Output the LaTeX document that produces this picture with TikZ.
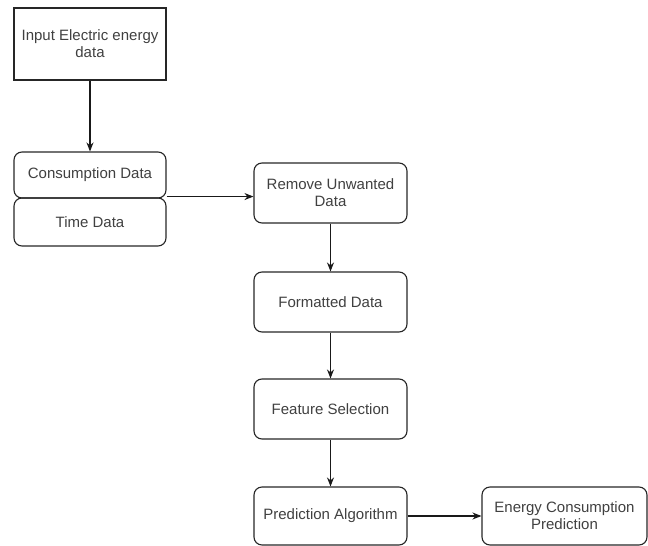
\documentclass[tikz,border=0pt]{standalone}
\usepackage{fontspec}
\setmainfont{Liberation Sans}
\usetikzlibrary{arrows.meta}
\begin{document}
\begin{tikzpicture}[x=1pt,y=-1pt,
  box/.style={draw=black!85, line width=1.1pt, rounded corners=8pt, align=center, text=black!75, font=\fontsize{15}{17}\selectfont, inner sep=0pt},
  sqbox/.style={box, rounded corners=0pt},
  arr/.style={draw=black!90, line width=1.1pt, -{Stealth[length=9pt,width=7pt]}}]
\useasboundingbox (0,0) rectangle (648,546);
\node[sqbox, minimum width=152pt, minimum height=72pt] (inp) at (90,44) {Input Electric energy\\data};
\node[box, minimum width=152pt, minimum height=46pt] (cons) at (90,175) {Consumption Data};
\node[box, minimum width=152pt, minimum height=48pt] (time) at (90,222) {Time Data};
\node[box, minimum width=153pt, minimum height=60pt] (rem) at (330.5,193) {Remove Unwanted\\Data};
\node[box, minimum width=153pt, minimum height=60pt] (fmt) at (330.5,302) {Formatted Data};
\node[box, minimum width=153pt, minimum height=60pt] (feat) at (330.5,409) {Feature Selection};
\node[box, minimum width=153pt, minimum height=58pt] (pred) at (330.5,516) {Prediction Algorithm};
\node[box, minimum width=165pt, minimum height=58pt] (out) at (564.5,516) {Energy Consumption\\Prediction};
\draw[arr] (inp.south) -- (cons.north);
\coordinate (j) at (cons.south east);
\draw[arr] ([yshift=2pt]j) -- ([yshift=2pt]j -| rem.west);
\draw[arr] (rem) -- (fmt);
\draw[arr] (fmt) -- (feat);
\draw[arr] (feat) -- (pred);
\draw[arr] (pred) -- (out);
\end{tikzpicture}
\end{document}
